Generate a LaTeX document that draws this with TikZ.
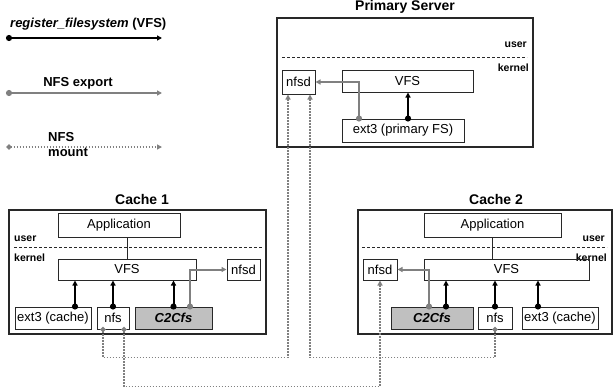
\documentclass[tikz,border=0pt]{standalone}
\usepackage{fontspec}
\setmainfont{Liberation Sans}
\usetikzlibrary{arrows.meta}
\definecolor{edge}{RGB}{40,40,40}
\definecolor{linegray}{RGB}{128,128,128}
\definecolor{fsgray}{RGB}{192,192,192}

\begin{document}
\begin{tikzpicture}[x=1pt,y=-1pt]
    \tikzstyle{host} = [draw=edge,line width=1.5pt,inner sep=0pt]
    \tikzstyle{box} = [draw=edge,line width=1pt,inner sep=0pt,font=\fontsize{13}{15}\selectfont]
    \tikzstyle{cachefs} = [box,fill=fsgray,font=\fontsize{13}{15}\selectfont\bfseries\itshape]
    \tikzstyle{title} = [font=\fontsize{14}{16}\selectfont\bfseries]
    \tikzstyle{layer} = [font=\fontsize{10.5}{12}\selectfont\bfseries,inner sep=0pt]
    \tikzstyle{legend} = [font=\fontsize{13}{15}\selectfont\bfseries,inner sep=0pt]
    \tikzstyle{divider} = [draw=edge,line width=1pt,dash pattern=on 3pt off 2pt]
    \tikzstyle{register} = [black,line width=2pt,shorten <=-3pt,{Circle[length=6pt]}-{Triangle[length=5pt,width=5pt]}]
    \tikzstyle{export} = [linegray,line width=2pt,shorten <=-3pt,{Circle[length=6pt]}-{Triangle[length=5pt,width=5pt]}]
    \tikzstyle{nfsmount} = [linegray,line width=1.8pt,dash pattern=on 1.8pt off 1.2pt,shorten <=-2.5pt,{Circle[length=5pt]}-{Triangle[length=5pt,width=5pt]}]

    \useasboundingbox (0,0) rectangle (613,389);


    \node[legend,anchor=west] (regtext) at (10,24) {\textit{register\_filesystem} (VFS)};
    \coordinate (rega) at (9,38);
    \coordinate (regb) at (162,38);
    \draw[register] (rega) -- (regb);

    \node[legend] (exptext) at (78,83) {NFS export};
    \coordinate (expa) at (9,93);
    \coordinate (expb) at (162,93);
    \draw[export] (expa) -- (expb);

    \node[legend,anchor=west,align=left] (mnttext) at (48,145) {NFS\\mount};
    \coordinate (mnta) at (9,147);
    \coordinate (mntb) at (162,147);
    \draw[nfsmount] (mnta) -- (mntb);


    \node[host,minimum width=256pt,minimum height=129pt] (prim) at (405,82.5) {};
    \node[title] (primtitle) at (405,7) {Primary Server};
    \draw[divider] (282,57) -- (527,57);
    \node[layer,anchor=east] (primuser) at (527,45) {user};
    \node[layer,anchor=east] (primkernel) at (529,68) {kernel};
    \node[box,minimum width=33pt,minimum height=24pt] (pnfsd) at (298.5,82) {nfsd};
    \node[box,minimum width=131pt,minimum height=22pt] (pvfs) at (407.5,81) {VFS};
    \node[box,minimum width=122pt,minimum height=23pt] (pext) at (403,130.5) {ext3 (primary FS)};

    \draw[register] ([xshift=5pt]pext.north) -- ([xshift=5pt]pext.north |- pvfs.south);
    \draw[export] ([xshift=-44pt]pext.north) |- (pnfsd.east);


    \node[host,minimum width=257pt,minimum height=124pt] (cacheA) at (137.5,272) {};
    \node[title] (cacheAtitle) at (142,199) {Cache 1};
    \draw[divider] (14,247) -- (262,247);
    \node[layer,anchor=west] (userA) at (14,239) {user};
    \node[layer,anchor=west] (kernelA) at (14,258) {kernel};
    \node[box,minimum width=122pt,minimum height=24pt] (appA) at (119,225) {Application};
    \node[box,minimum width=138pt,minimum height=21pt] (vfsA) at (127,269.5) {VFS};
    \node[box,minimum width=33pt,minimum height=21pt] (nfsdA) at (243.5,269.5) {nfsd};
    \node[box,minimum width=76pt,minimum height=22pt] (extA) at (53,318) {ext3 (cache)};
    \node[box,minimum width=32pt,minimum height=22pt] (nfsA) at (113,318) {nfs};
    \node[cachefs,minimum width=77pt,minimum height=22pt] (ccA) at (173.5,318) {C2Cfs};

    \draw[edge,line width=1pt] (vfsA.north |- appA.south) -- (vfsA.north);
    \draw[register] ([xshift=22pt]extA.north) -- ([xshift=22pt]extA.north |- vfsA.south);
    \draw[register] (nfsA.north) -- (nfsA.north |- vfsA.south);
    \draw[register] (ccA.north) -- (ccA.north |- vfsA.south);
    \draw[export] ([xshift=16.5pt]ccA.north) |- (nfsdA.west);


    \node[host,minimum width=254pt,minimum height=124pt] (cacheB) at (485,272) {};
    \node[title] (cacheBtitle) at (496,199) {Cache 2};
    \draw[divider] (362,247) -- (607,247);
    \node[layer,anchor=east] (userB) at (605,239) {user};
    \node[layer,anchor=east] (kernelB) at (607,258) {kernel};
    \node[box,minimum width=137pt,minimum height=24pt] (appB) at (492.5,225) {Application};
    \node[box,minimum width=165pt,minimum height=21pt] (vfsB) at (506.5,269.5) {VFS};
    \node[box,minimum width=34pt,minimum height=21pt] (nfsdB) at (380,269.5) {nfsd};
    \node[cachefs,minimum width=82pt,minimum height=22pt] (ccB) at (432,318) {C2Cfs};
    \node[box,minimum width=34pt,minimum height=22pt] (nfsB) at (495,318) {nfs};
    \node[box,minimum width=76pt,minimum height=22pt] (extB) at (560,318) {ext3 (cache)};

    \draw[edge,line width=1pt] (appB.south) -- (appB.south |- vfsB.north);
    \draw[register] ([xshift=14pt]ccB.north) -- ([xshift=14pt]ccB.north |- vfsB.south);
    \draw[register] (nfsB.north) -- (nfsB.north |- vfsB.south);
    \draw[register] ([xshift=-22pt]extB.north) -- ([xshift=-22pt]extB.north |- vfsB.south);
    \draw[export] ([xshift=-3pt]ccB.north) |- (nfsdB.east);


    \draw[nfsmount] ([xshift=-10pt]nfsA.south) -- ++(0,28) -| ([xshift=-10.5pt]pnfsd.south);
    \draw[nfsmount] (nfsB.south) -- ++(0,28) -| ([xshift=11.5pt]pnfsd.south);
    \draw[nfsmount] ([xshift=11pt]nfsA.south) -- ++(0,57) -| (nfsdB.south);

\end{tikzpicture}
\end{document}
